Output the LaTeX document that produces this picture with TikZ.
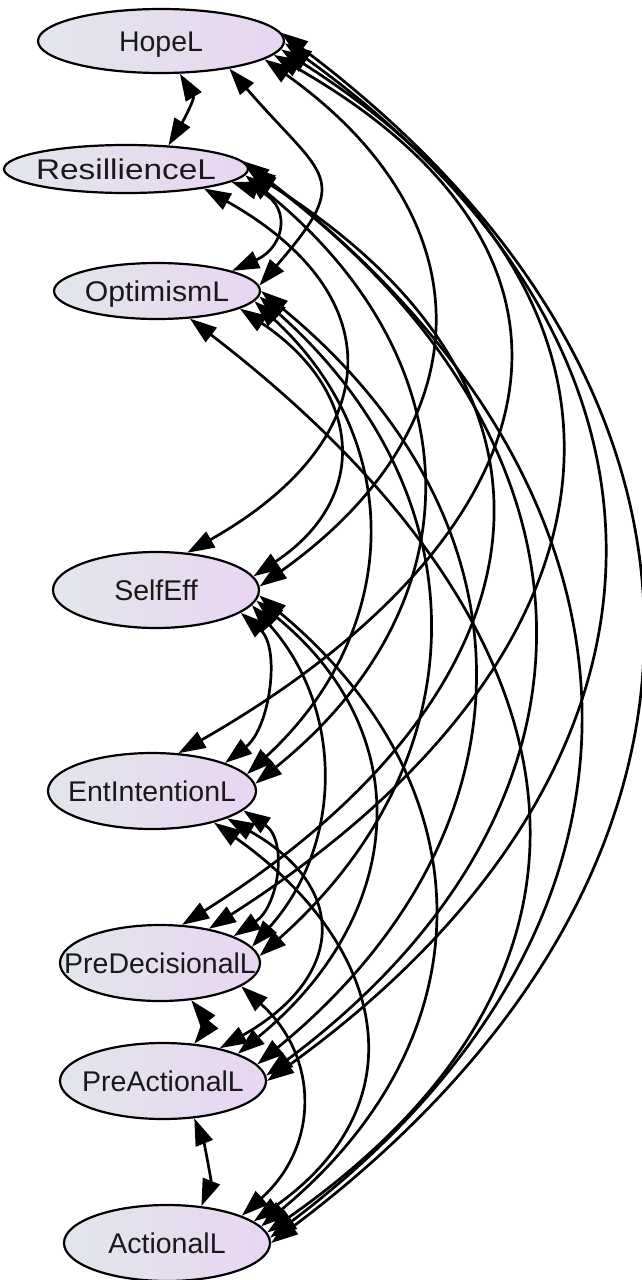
\documentclass[tikz,border=0pt]{standalone}
\usepackage{fontspec}
\setmainfont{Liberation Sans}
\usetikzlibrary{shapes.geometric,arrows.meta}
\definecolor{ncL}{RGB}{226,230,236}
\definecolor{ncR}{RGB}{233,213,241}
\definecolor{txt}{RGB}{25,25,25}
\newcommand{\lbl}[2][1]{\smash{\makebox[0pt]{\raisebox{-0.36em}{\scalebox{#1}[1]{#2}}}}}
\tikzset{
  lat/.style={ellipse, draw, line width=2.2pt, left color=ncL, right color=ncR,
    inner sep=0pt, text=txt, font=\fontsize{28.5}{30}\selectfont},
  tipx/.tip={Triangle[length=27pt,width=18pt]},
  cov/.style={line width=2.7pt, tipx-tipx}
}
\begin{document}
\begin{tikzpicture}[x=1pt,y=-1pt]
\useasboundingbox (0,0) rectangle (641,1280);
\node[lat, minimum width=246pt, minimum height=64pt] (H) at (161,41) {\lbl{HopeL}};
\node[lat, minimum width=244pt, minimum height=48pt] (R) at (126,169) {\lbl[1.17]{ResillienceL}};
\node[lat, minimum width=206pt, minimum height=56pt] (O) at (157,291) {\lbl[1.06]{OptimismL}};
\node[lat, minimum width=206pt, minimum height=76pt] (S) at (156,590) {\lbl{SelfEff}};
\node[lat, minimum width=208pt, minimum height=76pt] (E) at (152,791) {\lbl{EntIntentionL}};
\node[lat, minimum width=200pt, minimum height=76pt] (D) at (160,963) {\lbl{PreDecisionalL}};
\node[lat, minimum width=206pt, minimum height=76pt] (A) at (163,1081) {\lbl{PreActionalL}};
\node[lat, minimum width=206pt, minimum height=76pt] (L) at (167,1243) {\lbl{ActionalL}};
% short arcs
\draw[cov] (H.-60) .. controls +(15,25) and +(15,-25) .. (R.29);
\draw[cov] (R.-7) .. controls +(60,20) and +(55,-25) .. (O.15);
\draw[cov] (S.-15.5) .. controls +(40,35) and +(45,-35) .. (E.21.8);
\draw[cov] (E.-12) .. controls +(45,30) and +(45,-30) .. (D.20);
\draw[cov] (D.-50) .. controls +(12,15) and +(12,-15) .. (A.50.5);
\draw[cov] (D.-16) .. controls +(78,70) and +(78,-70) .. (L.20.2);
\draw[cov] (A.-50.5) .. controls +(10,25) and +(10,-25) .. (L.47.5);
% from HopeL
\draw[cov] (H.-22) .. controls +(95,110) and +(95,-110) .. (O.3);
\draw[cov] (H.-10) .. controls +(225,160) and +(225,-160) .. (S.2);
\draw[cov] (H.-7) .. controls +(367,210) and +(367,-210) .. (E.55);
\draw[cov] (H.-4) .. controls +(415,265) and +(415,-265) .. (D.35);
\draw[cov] (H.-1) .. controls +(433,312) and +(433,-312) .. (A.0);
\draw[cov] (H.4) .. controls +(484,363) and +(484,-363) .. (L.0);
% from ResillienceL
\draw[cov] (R.-14) .. controls +(195,110) and +(195,-110) .. (S.50);
\draw[cov] (R.-3) .. controls +(227,183) and +(227,-183) .. (E.4);
\draw[cov] (R.-1) .. controls +(361,227) and +(361,-227) .. (D.60);
\draw[cov] (R.1) .. controls +(365,273) and +(365,-273) .. (A.3);
\draw[cov] (R.4) .. controls +(427,323) and +(427,-323) .. (L.3);
% from OptimismL
\draw[cov] (O.-12) .. controls +(120,80) and +(120,-80) .. (S.8);
\draw[cov] (O.-6) .. controls +(154,142) and +(154,-142) .. (E.10);
\draw[cov] (O.-3) .. controls +(223,198) and +(223,-198) .. (D.4);
\draw[cov] (O.0) .. controls +(283,232) and +(283,-232) .. (A.10);
\draw[cov] (O.-40) .. controls +(391,300) and +(391,-274) .. (L.6);
% from SelfEff
\draw[cov] (S.-9) .. controls +(92,103) and +(92,-103) .. (D.10);
\draw[cov] (S.-6) .. controls +(166,136) and +(166,-136) .. (A.20);
\draw[cov] (S.-3) .. controls +(229,190) and +(229,-190) .. (L.10);
% from EntIntentionL
\draw[cov] (E.-20) .. controls +(124,70) and +(124,-70) .. (A.30);
\draw[cov] (E.-27) .. controls +(170,120) and +(170,-120) .. (L.14);
\end{tikzpicture}
\end{document}
